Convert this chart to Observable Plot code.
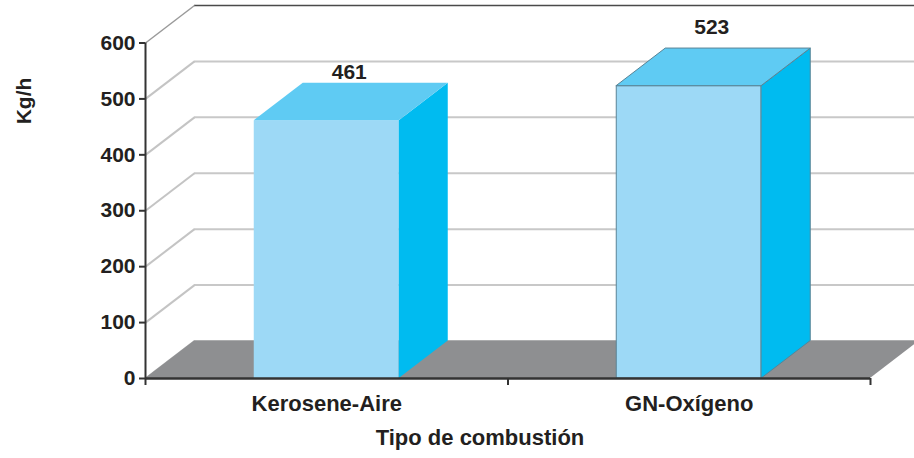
<!DOCTYPE html>
<html>
<head>
<meta charset="utf-8">
<script src="https://cdn.jsdelivr.net/npm/d3@7"></script>
<script src="https://cdn.jsdelivr.net/npm/@observablehq/plot@0.6"></script>
<style>
  html, body { margin: 0; padding: 0; background: #fff; overflow: hidden; }
</style>
</head>
<body>
<div id="chart"></div>
<script>
// ---- data ----
const categories = ["Kerosene-Aire", "GN-Oxígeno"];
const values = [461, 523];
const yTicks = [0, 100, 200, 300, 400, 500, 600];
const xTitle = "Tipo de combustión";
const yTitle = "Kg/h";

// ---- layout ----
const W = 914, H = 458, ML = 145, MR = 44, MT = 42.5, MB = 80;
const yMax = 600;
const kx = (W - ML - MR) / categories.length;  // px per x unit
const ky = (H - MT - MB) / yMax;               // px per y unit
const DXu = 49 / kx;    // depth offset in x units
const DYu = 37.5 / ky;  // depth offset in y units

const bars = categories.map((c, i) => ({c, v: values[i], i, a: i + 0.3, b: i + 0.7}));

const sidePts = bars.flatMap(d => [
  {k: d.i, x: d.b, y1: 0, y2: d.v},
  {k: d.i, x: d.b + DXu, y1: DYu, y2: d.v + DYu}
]);
const topPts = bars.flatMap(d => [
  {k: d.i, y: d.v, x1: d.a, x2: d.b},
  {k: d.i, y: d.v + DYu, x1: d.a + DXu, x2: d.b + DXu}
]);
const n = categories.length;
const floorPts = [
  {y: 0, x1: 0, x2: n},
  {y: DYu, x1: DXu, x2: n + DXu}
];
const xTicks = d3.range(n + 1);

const edge = d => d.i === 1 || d.k === 1 ? "#5a8496" : "none";
const font = "'Liberation Sans', Arial, Helvetica, sans-serif";
const ink = "#231f20";

const chart = Plot.plot({
  width: W, height: H,
  marginLeft: ML, marginRight: MR, marginTop: MT, marginBottom: MB,
  style: {fontFamily: font, fontSize: "21px", fontWeight: "bold", color: ink, background: "white"},
  x: {domain: [0, n], axis: null},
  y: {domain: [0, yMax], axis: null},
  marks: [
    // back wall gridlines
    Plot.ruleY(yTicks.filter(t => t < yMax), {y: t => t + DYu, x1: DXu, x2: n + DXu, stroke: "#c8c8c8", strokeWidth: 2}),
    Plot.ruleY([yMax], {y: t => t + DYu, x1: DXu, x2: n + DXu, stroke: "#4a4a4a", strokeWidth: 1.5}),
    // side wall diagonals
    Plot.link(yTicks.filter(t => t < yMax), {x1: 0, y1: t => t, x2: DXu, y2: t => t + DYu, stroke: "#c4c4c4", strokeWidth: 2}),
    Plot.link([yMax], {x1: 0, y1: t => t, x2: DXu, y2: t => t + DYu, stroke: "#9a9a9a", strokeWidth: 1.5}),
    // floor
    Plot.areaX(floorPts, {y: "y", x1: "x1", x2: "x2", fill: "#8e8f91"}),
    // bars: front, side, top
    Plot.rect(bars, {x1: "a", x2: "b", y1: 0, y2: "v", fill: "#9dd9f6", stroke: edge, strokeWidth: 1}),
    Plot.areaY(sidePts, {x: "x", y1: "y1", y2: "y2", z: "k", fill: "#00bbf0", stroke: edge, strokeWidth: 1}),
    Plot.areaX(topPts, {y: "y", x1: "x1", x2: "x2", z: "k", fill: "#5fcbf3", stroke: edge, strokeWidth: 1}),
    // value labels
    Plot.text(bars.filter(d => d.i === 0), {x: d => d.i + 0.5 + DXu / 2, y: d => d.v + DYu, text: d => String(d.v), dx: -2, dy: -11, fill: ink, fontSize: 21}),
    Plot.text(bars.filter(d => d.i === 1), {x: d => d.i + 0.5 + DXu / 2, y: d => d.v + DYu, text: d => String(d.v), dx: -2, dy: -21, fill: ink, fontSize: 21}),
    // axes
    Plot.axisY(yTicks, {anchor: "left", tickSize: 6, tickPadding: 4, label: null, strokeWidth: 2, stroke: "#333", fill: ink, fontSize: 21, fontWeight: "bold"}),
    Plot.axisX(xTicks, {anchor: "bottom", tickSize: 7, tickFormat: () => "", label: null, strokeWidth: 2, stroke: "#333"}),
    Plot.ruleX([0], {y1: 0, y2: yMax, stroke: "#333", strokeWidth: 2}),
    Plot.ruleY([0], {x1: 0, x2: n, stroke: "#333", strokeWidth: 2.5}),
    // category labels
    Plot.text(bars, {x: d => d.i + 0.5, text: "c", frameAnchor: "bottom", lineAnchor: "middle", dy: 25, fontSize: 22, fill: ink}),
    // axis titles
    Plot.text([xTitle], {frameAnchor: "bottom", lineAnchor: "middle", dx: -28, dy: 59, fontSize: 22, fill: ink}),
    Plot.text([yTitle], {frameAnchor: "top-left", textAnchor: "middle", lineAnchor: "middle", rotate: -90, dx: -121, dy: 58, fontSize: 21, fill: ink})
  ]
});
document.getElementById("chart").appendChild(chart);
</script>
</body>
</html>
